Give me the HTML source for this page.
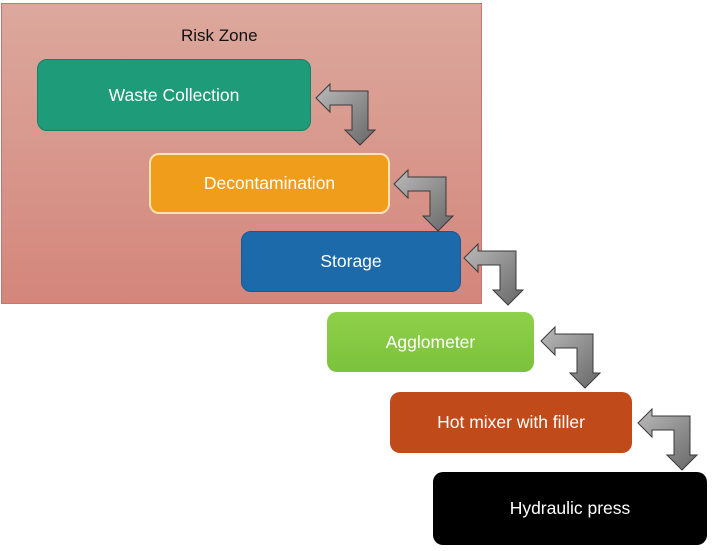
<!DOCTYPE html>
<html><head><style>
body{margin:0;width:714px;height:551px;background:#fff;overflow:hidden;font-family:"Liberation Sans",sans-serif;position:relative}
.zone{position:absolute;left:1px;top:3px;width:479px;height:299px;background:linear-gradient(#dca89d,#d4867b);border:1px solid #c9756b}
.b{position:absolute;border-radius:10px;color:#fff;font-size:17.5px;display:flex;align-items:center;justify-content:center;box-sizing:border-box}
svg{position:absolute;left:0;top:0}
</style></head><body>
<div class="zone"></div>
<div style="position:absolute;left:181px;top:26px;font-size:17px;color:#111">Risk Zone</div>
<div class="b" style="left:37px;top:59px;width:274px;height:72px;background:#1e9b78;border:1px solid #178064">Waste Collection</div>
<div class="b" style="left:149px;top:153px;width:241px;height:61px;background:#f09d1c;border:2px solid #fbe3b0">Decontamination</div>
<div class="b" style="left:241px;top:231px;width:220px;height:61px;background:#1d6aab;border:1px solid #175a92">Storage</div>
<div class="b" style="left:327px;top:312px;width:207px;height:60px;background:linear-gradient(#8fd04a,#7cc23c)">Agglometer</div>
<div class="b" style="left:390px;top:392px;width:242px;height:61px;background:#c04a1a">Hot mixer with filler</div>
<div class="b" style="left:433px;top:472px;width:274px;height:73px;background:#000">Hydraulic press</div>
<svg width="714" height="551">
<defs><linearGradient id="g" x1="0" y1="0" x2="1" y2="1"><stop offset="0" stop-color="#bbb"/><stop offset="1" stop-color="#666"/></linearGradient></defs>
<g fill="url(#g)" stroke="#3a3a3a" stroke-width="1">
<path id="a" d="M0,0 L14,-14 L14,-7 L52,-7 L52,32 L59,32 L44,47 L29,32 L36,32 L36,7 L14,7 L14,14 Z" transform="translate(316,98)"/>
<use href="#a" transform="translate(78,86)"/>
<use href="#a" transform="translate(148,160)"/>
<use href="#a" transform="translate(225,243)"/>
<use href="#a" transform="translate(322,325)"/>
</g>
</svg>
</body></html>
